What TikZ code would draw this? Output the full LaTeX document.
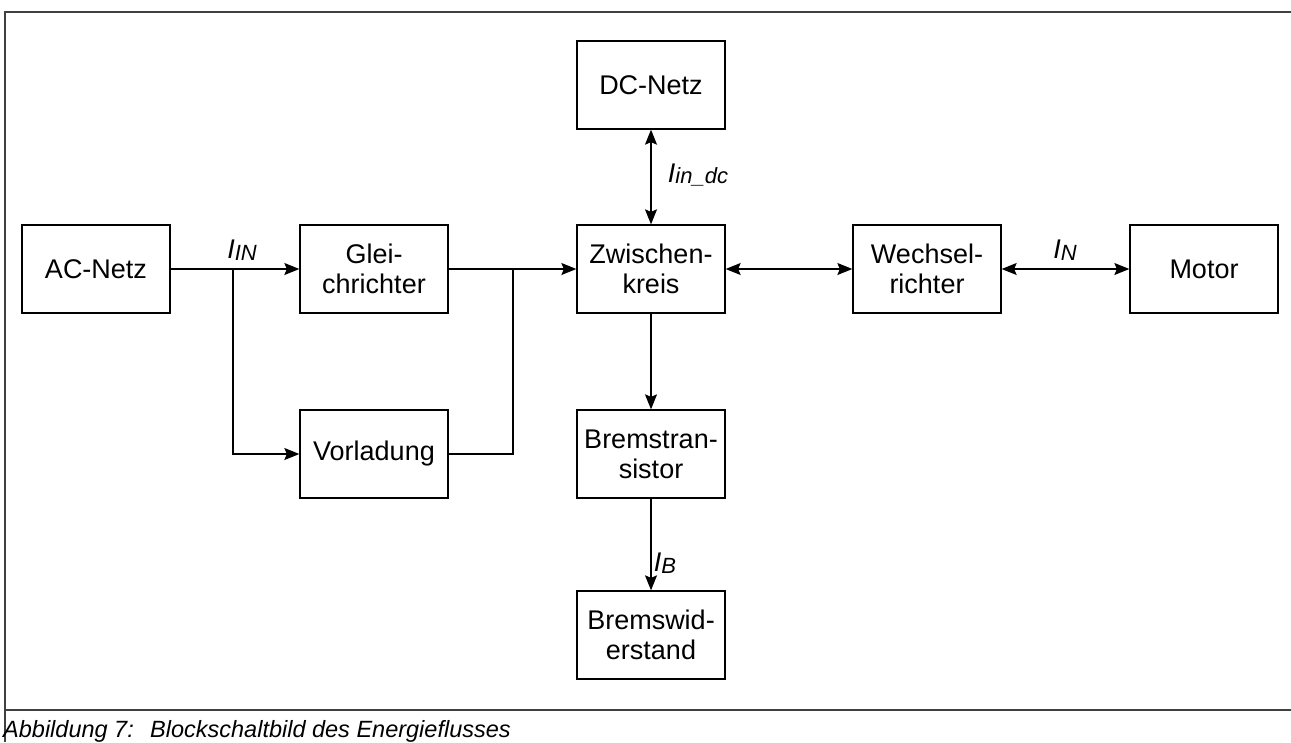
\documentclass[tikz,border=0pt]{standalone}
\usepackage{fontspec}
\setmainfont{Liberation Sans}
\usetikzlibrary{arrows.meta}
\begin{document}
\begin{tikzpicture}[x=1pt,y=-1pt,
  blk/.style={draw=black,line width=1.3pt,minimum width=148pt,minimum height=88pt,
    align=center,font=\fontsize{27}{30}\selectfont,inner sep=0pt},
  tip/.tip={Stealth[length=15pt,width=12pt,inset=2.5pt]},
  con/.style={line width=1.3pt,-tip},
  bicon/.style={line width=1.3pt,tip-tip},
  plain/.style={line width=1.3pt},
  lbl/.style={font=\fontsize{27}{30}\selectfont\itshape,inner sep=0pt},
  capt/.style={anchor=base west,inner sep=0pt,font=\fontsize{23.5}{27}\selectfont\itshape},
  frame/.style={line width=1.5pt,draw=black!75}]
\useasboundingbox (0,0) rectangle (1291,742);
\fill[white] (0,0) rectangle (1291,742);
% frame
\draw[frame] (5,742) -- (5,12) -- (1291,12);
\draw[frame] (5,710) -- (1291,710);
% blocks
\node[blk] (ac) at (96,269) {AC-Netz};
\node[blk] (gl) at (374,269) {Glei-\\chrichter};
\node[blk] (vo) at (374,454) {Vorladung};
\node[blk] (zw) at (651,269) {Zwischen-\\kreis};
\node[blk] (dc) at (651,85) {DC-Netz};
\node[blk] (we) at (927,269) {Wechsel-\\richter};
\node[blk] (mo) at (1204,269) {Motor};
\node[blk] (bt) at (651,454) {Bremstran-\\sistor};
\node[blk] (bw) at (651,635) {Bremswid-\\erstand};
% junctions
\coordinate (j1) at (233,269);
\coordinate (j2) at (513,269);
% connectors
\draw[con] (ac.east) -- (gl.west);
\draw[con] (j1) |- (vo.west);
\draw[plain] (gl.east) -- (j2);
\draw[plain] (vo.east) -| (j2);
\draw[con] (j2) -- (zw.west);
\draw[bicon] (dc.south) -- (zw.north);
\draw[bicon] (zw.east) -- (we.west);
\draw[bicon] (we.east) -- (mo.west);
\draw[con] (zw.south) -- (bt.north);
\draw[con] (bt.south) -- (bw.north);
% labels
\node[lbl] (lin) at (242,250) {I\raisebox{-0.12ex}{\fontsize{22}{26}\selectfont IN}};
\node[lbl] (ldc) at (698,175) {I\raisebox{-0.12ex}{\fontsize{22}{26}\selectfont in\_dc}};
\node[lbl] (ln) at (1065,250) {I\raisebox{-0.12ex}{\fontsize{22}{26}\selectfont N}};
\node[lbl] (lb) at (665,563) {I\raisebox{-0.12ex}{\fontsize{22}{26}\selectfont B}};
% caption
\node[capt] (cap1) at (3,737) {Abbildung 7:};
\node[capt] (cap2) at (150,737) {Blockschaltbild des Energieflusses};
\end{tikzpicture}
\end{document}
